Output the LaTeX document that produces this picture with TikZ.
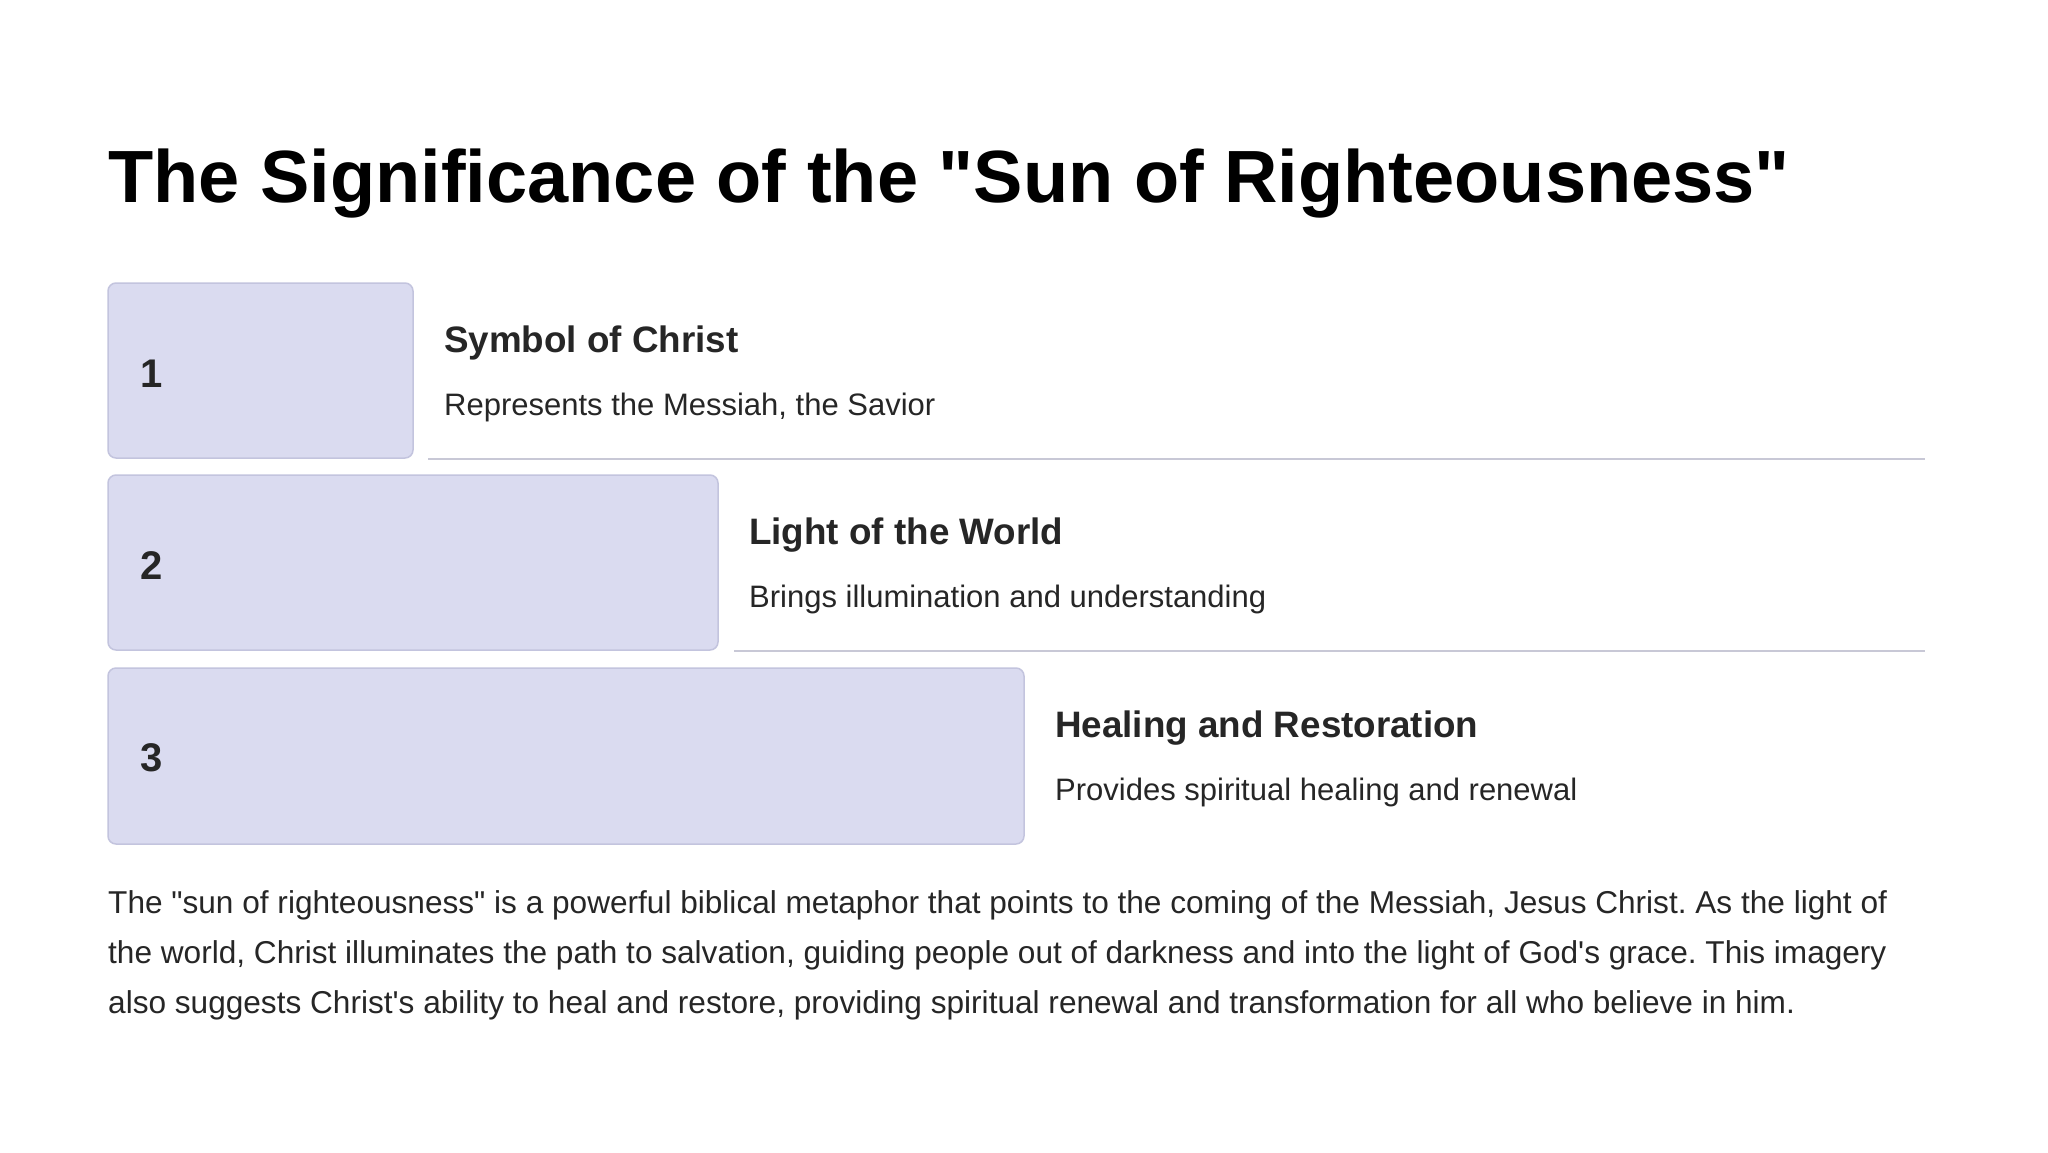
\documentclass[tikz,border=0pt]{standalone}
\usepackage{fontspec}
\setmainfont{Liberation Sans}[Ligatures=TeXOff]
\frenchspacing
\definecolor{boxfill}{HTML}{DADBF0}
\definecolor{boxline}{HTML}{C3C4DE}
\definecolor{sepline}{HTML}{C8C8D6}
\definecolor{txt}{HTML}{262626}
\begin{document}
\begin{tikzpicture}[x=1pt,y=-1pt,
  numbox/.style={draw=boxline,fill=boxfill,line width=1.5pt,rounded corners=8pt},
  sep/.style={draw=sepline,line width=2pt},
  numtxt/.style={anchor=base west,inner sep=0pt,font=\fontsize{40}{48}\selectfont\bfseries,text=txt},
  headtxt/.style={anchor=base west,inner sep=0pt,font=\fontsize{36.8}{44}\selectfont\bfseries,text=txt},
  desctxt/.style={anchor=base west,inner sep=0pt,font=\fontsize{31}{38}\selectfont,text=txt},
  titletxt/.style={anchor=base west,inner sep=0pt,font=\fontsize{74}{90}\selectfont\bfseries,text=black},
  paratxt/.style={anchor=north west,inner sep=0pt,align=left,font=\fontsize{31.6}{50}\selectfont,text=txt}]
\useasboundingbox[fill=white] (0,0) rectangle (2048,1152);
\node[titletxt] (title) at (108,202) {The Significance of the "Sun of Righteousness"};
% boxes
\draw[numbox] (108,283) rectangle (413,458);
\draw[numbox] (108,475) rectangle (718,650);
\draw[numbox] (108,668) rectangle (1024,844);
\coordinate (l1a) at (428,459); \coordinate (l1b) at (1925,459);
\coordinate (l2a) at (734,651); \coordinate (l2b) at (1925,651);
\draw[sep] (l1a) -- (l1b);
\draw[sep] (l2a) -- (l2b);
\node[numtxt] (n1) at (140,387) {1};
\node[numtxt] (n2) at (140,579) {2};
\node[numtxt] (n3) at (140,771) {3};
\node[headtxt] (h1) at (444,352) {Symbol of Christ};
\node[desctxt] (d1) at (444,415) {Represents the Messiah, the Savior};
\node[headtxt] (h2) at (749,544) {Light of the World};
\node[desctxt] (d2) at (749,607) {Brings illumination and understanding};
\node[headtxt] (h3) at (1055,737) {Healing and Restoration};
\node[desctxt] (d3) at (1055,800) {Provides spiritual healing and renewal};
\node[paratxt] (para) at (108,890) {The "sun of righteousness" is a powerful biblical metaphor that points to the coming of the Messiah, Jesus Christ. As the light of\\
the world, Christ illuminates the path to salvation, guiding people out of darkness and into the light of God's grace. This imagery\\
also suggests Christ's ability to heal and restore, providing spiritual renewal and transformation for all who believe in him.};
\end{tikzpicture}
\end{document}
